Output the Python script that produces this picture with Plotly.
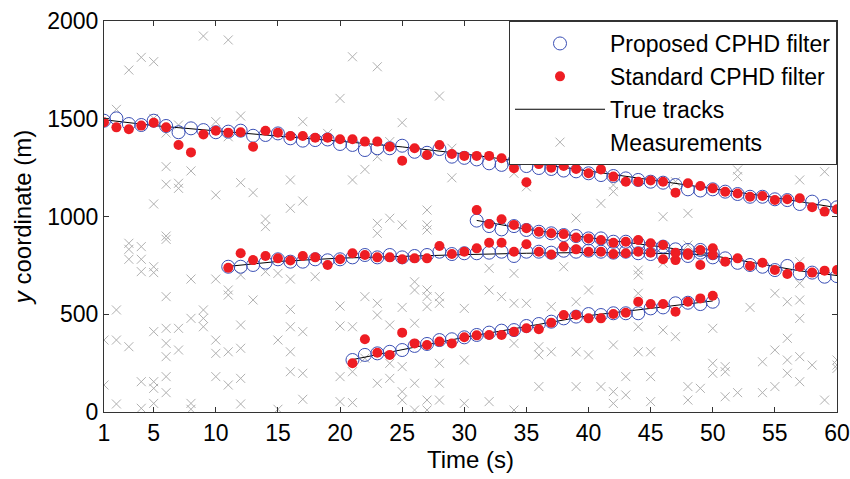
import plotly.graph_objects as go

# ---------------- data ----------------
# True tracks (knots)
track1_t = [1, 5, 10, 15, 20, 25, 30, 35, 40, 45, 50, 55, 60]
track1_y = [1495, 1465, 1438, 1412, 1385, 1356, 1320, 1278, 1233, 1188, 1143, 1097, 1045]
track2_t = [11, 15, 20, 25, 30, 35, 40, 45, 48, 50, 53, 55, 57, 60]
track2_y = [745, 770, 787, 797, 805, 812, 816, 812, 808, 800, 765, 742, 722, 698]
track3_t = [31, 35, 40, 45, 50]
track3_y = [980, 935, 892, 852, 808]
track4_t = [21, 25, 30, 35, 40, 45, 50]
track4_y = [268, 318, 382, 437, 493, 530, 568]

# Estimates: Proposed CPHD filter (circles)
prop1_t = list(range(1, 61))
prop1_y = [1490, 1502, 1473, 1468, 1490, 1463, 1431, 1451, 1442, 1431,
           1434, 1439, 1413, 1417, 1425, 1400, 1388, 1391, 1394, 1371,
           1366, 1340, 1349, 1349, 1362, 1331, 1326, 1345, 1306, 1300,
           1292, 1272, 1264, 1281, 1258, 1248, 1243, 1235, 1231, 1221,
           1212, 1207, 1195, 1187, 1178, 1173, 1161, 1139, 1133, 1139,
           1127, 1115, 1101, 1101, 1088, 1084, 1064, 1076, 1054, 1047]
prop2_t = list(range(11, 61))
prop2_y = [743, 743, 752, 764, 781, 769, 769, 781, 776, 781,
           791, 803, 791, 803, 791, 798, 803, 820, 808, 812,
           812, 815, 820, 798, 820, 820, 815, 825, 820, 825,
           820, 815, 820, 812, 808, 803, 803, 798, 815, 791,
           786, 763, 752, 743, 726, 747, 709, 713, 692, 695]
prop3_t = list(range(31, 51))
prop3_y = [979, 951, 934, 951, 931, 922, 914, 905, 900, 888,
           888, 871, 871, 863, 846, 846, 832, 829, 829, 812]
prop4_t = list(range(21, 51))
prop4_y = [266, 292, 300, 308, 317, 338, 348, 368, 372, 382,
           394, 406, 416, 419, 440, 450, 462, 479, 488, 501,
           496, 505, 505, 505, 530, 535, 556, 559, 552, 564]

# Estimates: Standard CPHD filter (red dots)
std1_t = list(range(1, 61))
std1_y = [1482, 1456, 1446, 1465, 1480, 1456, 1366, 1328, 1420, 1439,
          1429, 1431, 1357, 1439, 1429, 1412, 1412, 1403, 1403, 1395,
          1395, 1383, 1383, 1357, 1285, 1349, 1315, 1366, 1320, 1310,
          1310, 1310, 1298, 1247, 1175, 1268, 1250, 1258, 1243, 1221,
          1241, 1204, 1178, 1178, 1184, 1178, 1122, 1170, 1156, 1144,
          1127, 1118, 1101, 1105, 1084, 1088, 1093, 1047, 1025, 1037]
std2_t = list(range(11, 61))
std2_y = [738, 812, 777, 798, 786, 775, 798, 791, 752, 781,
          812, 803, 791, 791, 781, 786, 786, 849, 808, 820,
          837, 866, 866, 820, 858, 820, 806, 846, 832, 820,
          820, 808, 812, 820, 815, 781, 777, 803, 752, 803,
          769, 786, 747, 763, 726, 706, 743, 713, 723, 726]
std3_t = list(range(31, 51))
std3_y = [1033, 962, 986, 957, 940, 922, 914, 910, 893, 888,
          880, 866, 871, 880, 863, 854, 815, 812, 829, 837]
std4_t = list(range(21, 51))
std4_y = [249, 372, 303, 292, 406, 351, 343, 360, 351, 382,
          392, 394, 394, 411, 428, 423, 457, 496, 496, 479,
          479, 501, 508, 564, 552, 552, 513, 564, 581, 595]

# Measurements (clutter + detections)
meas_t = [2, 9, 11, 4, 3, 5, 20, 21, 5, 7, 10, 12, 17, 19, 6, 11, 6, 6, 7, 7,
          8, 5, 10, 12, 13, 16, 16, 17, 14, 21,
          23, 28, 25, 22, 23, 24, 29, 29, 27, 24, 34, 35, 39, 41, 36,
          46, 48, 52, 52, 58, 57, 59, 42, 42, 46, 48, 47,
          3, 3, 3, 4, 4, 4, 5, 5, 6, 6, 6, 8, 10, 2, 1, 2, 3, 5, 6, 7, 6, 7, 6,
          8, 9, 9, 9, 10, 10, 10, 11, 11, 11, 11, 12, 12, 12, 12, 12, 13, 14,
          14, 15, 15, 15, 16, 16, 16, 16, 16, 17, 17, 17, 18, 20, 20, 20, 20,
          21, 21, 1, 2, 4, 4, 5, 5, 5, 6, 6, 8, 8,
          23, 23, 25, 27, 27, 32, 34, 38, 40, 22, 23, 23, 24, 25, 26, 26, 26,
          27, 27, 27, 28, 28, 30, 32, 33, 34, 34, 35, 37, 36, 36, 37, 39, 39,
          40, 39, 36, 34, 32, 30, 30, 28, 28, 28, 27, 27, 26, 25, 25, 25, 24,
          24, 23, 22, 21, 26,
          44, 44, 46, 48, 44, 57, 57, 57, 57, 55, 56, 53, 50, 44, 46, 47, 42,
          44, 45, 45, 43, 41, 42, 42, 43, 45, 48, 48, 49, 50, 50, 51, 51, 51,
          52, 54, 54, 55, 55, 56, 56, 56, 57, 57, 58, 59, 60, 60, 60]
meas_y = [1548, 1923, 1903, 1814, 1749, 1792, 1604, 1817, 1502, 1468, 1485,
          1514, 1485, 1425, 1427, 1408, 1255, 1165, 1170, 1144,
          1233, 1064, 1110, 1173, 1122, 1187, 1042, 1079, 987, 1187,
          1766, 1616, 1480, 1241, 1306, 1383, 1198, 1349, 1033, 991, 1221,
          1152, 992, 1067, 1289,
          1298, 1306, 1238, 1204, 1306, 1187, 1229, 1161, 1127, 999, 1016, 1178,
          863, 832, 781, 846, 781, 718, 743, 713, 900, 883, 590, 680, 680, 522,
          368, 368, 334, 411, 428, 428, 351, 317, 283,
          479, 522, 479, 436, 368, 300, 181, 624, 598, 308, 138, 701, 445, 326,
          172, 41, 573, 948,
          718, 709, 368, 14, 680, 525, 436, 308, 206, 411, 198, 65, 692, 542,
          440, 181, 53,
          436, 48, 138, 41, 155, 19, 155, 121, 44, 181, 99, 44, 14,
          965, 914, 957, 957, 931, 735, 709, 743, 624, 590, 556, 496, 445, 535,
          666, 624, 454,
          624, 590, 539, 590, 556, 530, 624, 590, 556, 351, 556, 539, 334, 292,
          308, 564, 308,
          292, 130, 130, 10, 53, 266, 44, 249, 147, 61, 61, 10, 147, 232, 104,
          61, 249,
          172, 147, 275, 206, 10,
          726, 701, 761, 854, 607, 769, 658, 573, 479, 607, 564, 535, 428, 436,
          419, 385, 343,
          308, 308, 181, 181, 130, 104, 44, 87, 53, 130, 61, 121, 249, 198,
          232, 206, 78,
          99, 257, 99, 317, 130, 377, 266, 198, 283, 155, 240, 61, 266, 240, 223]

x_tickvals = [1, 5, 10, 15, 20, 25, 30, 35, 40, 45, 50, 55, 60]
y_tickvals = [0, 500, 1000, 1500, 2000]


def join(groups):
    xs, ys = [], []
    for t, y in groups:
        if xs:
            xs.append(None)
            ys.append(None)
        xs.extend(t)
        ys.extend(y)
    return xs, ys


true_x, true_y = join([(track1_t, track1_y), (track2_t, track2_y),
                       (track3_t, track3_y), (track4_t, track4_y)])
prop_x, prop_y = join([(prop1_t, prop1_y), (prop2_t, prop2_y),
                       (prop3_t, prop3_y), (prop4_t, prop4_y)])
std_x, std_y = join([(std1_t, std1_y), (std2_t, std2_y),
                     (std3_t, std3_y), (std4_t, std4_y)])

FONT = "Arial, Liberation Sans, sans-serif"

fig = go.Figure()
fig.add_trace(go.Scatter(
    x=meas_t, y=meas_y, mode="markers", name="Measurements", legendrank=4,
    marker=dict(symbol="x-thin-open", size=9, color="#b0b0b0",
                line=dict(width=1, color="#b0b0b0"))))
fig.add_trace(go.Scatter(
    x=true_x, y=true_y, mode="lines", name="True tracks", legendrank=3,
    line=dict(color="black", width=1)))
fig.add_trace(go.Scatter(
    x=prop_x, y=prop_y, mode="markers", name="Proposed CPHD filter", legendrank=1,
    marker=dict(symbol="circle-open", size=13, color="#3a4fb5",
                line=dict(width=1, color="#3a4fb5"))))
fig.add_trace(go.Scatter(
    x=std_x, y=std_y, mode="markers", name="Standard CPHD filter", legendrank=2,
    marker=dict(symbol="circle", size=10, color="#ee1d23")))

axis_common = dict(
    showline=True, linecolor="#333333", linewidth=1, mirror="ticks",
    ticks="inside", ticklen=5, tickcolor="#333333", showgrid=False,
    zeroline=False, tickfont=dict(family=FONT, size=23, color="black"),
)
fig.update_xaxes(range=[1, 60], tickvals=x_tickvals, automargin=False,
                 title=dict(text="Time (s)", font=dict(family=FONT, size=24, color="black"),
                            standoff=5),
                 **axis_common)
fig.update_yaxes(range=[0, 2000], tickvals=y_tickvals, automargin=False,
                 title=dict(text="<i>y</i> coordinate (m)",
                            font=dict(family=FONT, size=24, color="black"), standoff=8),
                 **axis_common)

fig.update_layout(
    width=850, height=479,
    margin=dict(l=104, r=13, t=21, b=67),
    paper_bgcolor="white", plot_bgcolor="white",
    showlegend=True,
    legend=dict(x=1, y=1, xanchor="right", yanchor="top",
                bgcolor="white", bordercolor="#333333", borderwidth=1,
                font=dict(family=FONT, size=23, color="black"),
                itemwidth=90, tracegroupgap=0),
)

fig.write_html("out.html")
